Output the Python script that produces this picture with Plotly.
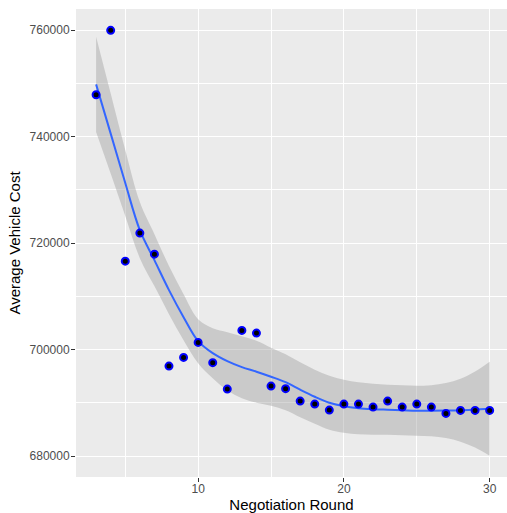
import plotly.graph_objects as go

# Average vehicle cost per negotiation round
rounds = list(range(3, 31))
avg_cost = [
    747850, 759950, 716620, 721880, 717930, 696920, 698550, 701370,
    697560, 692600, 703620, 703120, 693160, 692680, 690350, 689780,
    688660, 689780, 689780, 689220, 690350, 689220, 689780, 689220,
    688040, 688600, 688600, 688600,
]

# Smoothed trend with its confidence band
smooth_fit = [
    749800, 740560, 731270, 722440, 716810, 711180, 706100, 701600,
    699340, 697840, 696720, 695870, 694930, 693900, 692490, 691170,
    690050, 689390, 689020, 688830, 688730, 688640, 688550, 688550,
    688580, 688640, 688770, 688920,
]
smooth_lower = [
    740880, 733050, 725070, 717180, 711930, 706670, 701780, 697470,
    694650, 692390, 690900, 690050, 689480, 688640, 687330, 686100,
    684980, 684410, 684140, 684040, 684040, 683950, 683860, 683760,
    683420, 682730, 681630, 680090,
]
smooth_upper = [
    758720, 748070, 737470, 727700, 721690, 715690, 710420, 705730,
    704040, 703290, 702540, 701690, 700380, 699160, 697650, 696240,
    695120, 694370, 693900, 693620, 693430, 693340, 693250, 693340,
    693740, 694560, 695910, 697750,
]

x_ticks = [10, 20, 30]
y_ticks = [680000, 700000, 720000, 740000, 760000]
y_tick_labels = ["680000", "700000", "720000", "740000", "760000"]

FONT = "Liberation Sans, Arial, Helvetica, sans-serif"

fig = go.Figure()

# confidence band
fig.add_trace(go.Scatter(
    x=rounds, y=smooth_upper, mode="lines",
    line=dict(width=0, shape="spline", smoothing=1.0),
    hoverinfo="skip", showlegend=False,
))
fig.add_trace(go.Scatter(
    x=rounds, y=smooth_lower, mode="lines",
    line=dict(width=0, shape="spline", smoothing=1.0),
    fill="tonexty", fillcolor="rgba(153,153,153,0.4)",
    hoverinfo="skip", showlegend=False,
))
# trend line
fig.add_trace(go.Scatter(
    x=rounds, y=smooth_fit, mode="lines",
    line=dict(color="#3366FF", width=2, shape="spline", smoothing=1.0),
    showlegend=False,
))
# observed averages
fig.add_trace(go.Scatter(
    x=rounds, y=avg_cost, mode="markers",
    marker=dict(size=7, color="black", line=dict(color="#0000FF", width=2)),
    showlegend=False,
))

fig.update_layout(
    width=507, height=513,
    margin=dict(l=76, r=0, t=9, b=36),
    paper_bgcolor="white",
    plot_bgcolor="#EBEBEB",
    font=dict(family=FONT, color="black"),
    showlegend=False,
)

fig.update_xaxes(
    range=[1.62, 31.19],
    tickvals=x_ticks,
    ticks="outside", ticklen=4, tickwidth=1, tickcolor="#333333",
    ticklabelstandoff=-3,
    tickfont=dict(size=12, color="#4D4D4D", family=FONT),
    showgrid=True, gridcolor="white", gridwidth=1.4,
    minor=dict(dtick=5, tick0=0, showgrid=True, gridcolor="white", gridwidth=0.7, ticks=""),
    zeroline=False, showline=False,
    title=dict(text="Negotiation Round", font=dict(size=15, color="black", family=FONT), standoff=3),
)
fig.update_yaxes(
    range=[676100, 763950],
    tickvals=y_ticks, ticktext=y_tick_labels,
    ticks="outside", ticklen=4, tickwidth=1, tickcolor="#333333",
    ticklabelstandoff=-1,
    tickfont=dict(size=12, color="#4D4D4D", family=FONT),
    showgrid=True, gridcolor="white", gridwidth=1.4,
    minor=dict(dtick=10000, tick0=0, showgrid=True, gridcolor="white", gridwidth=0.7, ticks=""),
    zeroline=False, showline=False,
    title=dict(text="Average Vehicle Cost", font=dict(size=15, color="black", family=FONT), standoff=5),
)

fig.write_html("out.html")
